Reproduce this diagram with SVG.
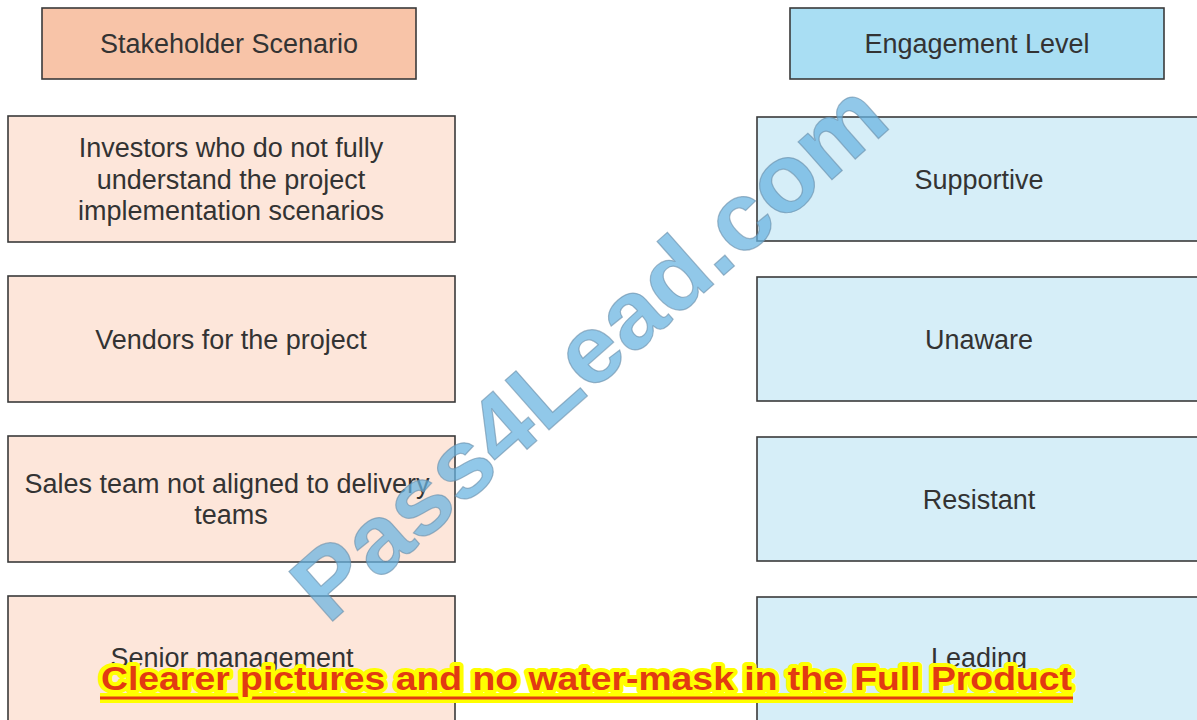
<svg xmlns="http://www.w3.org/2000/svg" width="1197" height="720" viewBox="0 0 1197 720">
<style>
.box{stroke:#3a3a3a;stroke-width:1.6}
.hl{fill:#f8c4a8}
.hr{fill:#a9def3}
.bl{fill:#fde6da}
.br{fill:#d6eef8}
.t{font-family:"Liberation Sans",Arial,sans-serif;font-size:27px;fill:#333;text-anchor:middle}
.wm{font-family:"Liberation Sans",Arial,sans-serif;font-weight:bold;font-size:96px;fill:#66b3e1;fill-opacity:0.72;stroke:#6a8ea8;stroke-width:1.2;stroke-opacity:0.6;text-anchor:middle}
.ban{font-family:"Liberation Sans",Arial,sans-serif;font-weight:bold;font-size:34px;fill:#e23a12;stroke:#ffff00;stroke-width:8;stroke-linejoin:round;paint-order:stroke}
</style>
<rect width="1197" height="720" fill="#ffffff"/>
<g id="header-stakeholder">
<rect class="box hl" x="42" y="8" width="374" height="71"/>
<text class="t" x="229" y="52.5">Stakeholder Scenario</text>
</g>
<g id="header-engagement">
<rect class="box hr" x="790" y="8" width="374" height="71"/>
<text class="t" x="977" y="52.5">Engagement Level</text>
</g>
<g id="scenario-investors">
<rect class="box bl" x="8" y="116" width="447" height="126"/>
<text class="t" x="231" y="157">Investors who do not fully</text>
<text class="t" x="231" y="188.5">understand the project</text>
<text class="t" x="231" y="220">implementation scenarios</text>
</g>
<g id="scenario-vendors">
<rect class="box bl" x="8" y="276" width="447" height="126"/>
<text class="t" x="231" y="348.5">Vendors for the project</text>
</g>
<g id="scenario-sales">
<rect class="box bl" x="8" y="436" width="447" height="126"/>
<text class="t" x="227" y="492.5">Sales team not aligned to delivery</text>
<text class="t" x="231" y="524">teams</text>
</g>
<g id="scenario-senior">
<rect class="box bl" x="8" y="596" width="447" height="140"/>
<text class="t" x="232" y="667">Senior management</text>
</g>
<g id="level-supportive">
<rect class="box br" x="757" y="117" width="450" height="124"/>
<text class="t" x="979" y="189">Supportive</text>
</g>
<g id="level-unaware">
<rect class="box br" x="757" y="277" width="450" height="124"/>
<text class="t" x="979" y="348.5">Unaware</text>
</g>
<g id="level-resistant">
<rect class="box br" x="757" y="437" width="450" height="124"/>
<text class="t" x="979" y="508.5">Resistant</text>
</g>
<g id="level-leading">
<rect class="box br" x="757" y="597" width="450" height="140"/>
<text class="t" x="979" y="667">Leading</text>
</g>
<g id="connectors"></g>
<g id="watermark">
<text class="wm" transform="translate(588,350) rotate(-41.5)" x="0" y="34" textLength="755" lengthAdjust="spacingAndGlyphs">Pass4Lead.com</text>
</g>
<g id="banner">
<line x1="100" y1="698" x2="1073" y2="698" stroke="#ffff00" stroke-width="10"/>
<line x1="100" y1="698" x2="1073" y2="698" stroke="#e23a12" stroke-width="3"/>
<text class="ban" x="101" y="690" textLength="971" lengthAdjust="spacingAndGlyphs">Clearer pictures and no water-mask in the Full Product</text>
</g>
</svg>
